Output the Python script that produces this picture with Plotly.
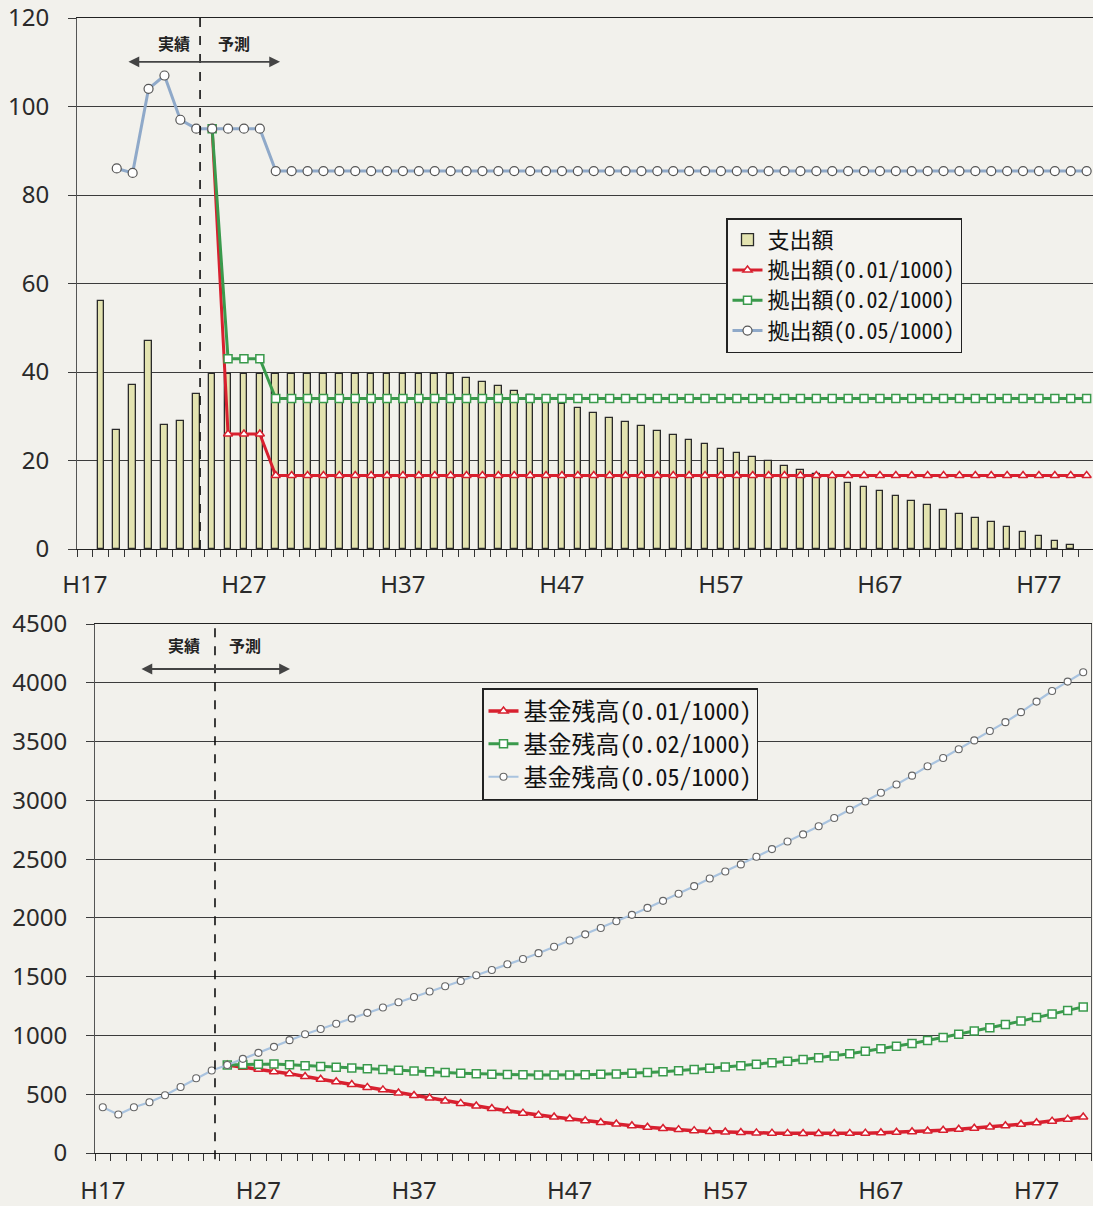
import plotly.graph_objects as go

# ---------------- data ----------------
years = ["H17","H18","H19","H20","H21","H22","H23","H24","H25","H26",
         "H27","H28","H29","H30","H31","H32","H33","H34","H35","H36",
         "H37","H38","H39","H40","H41","H42","H43","H44","H45","H46",
         "H47","H48","H49","H50","H51","H52","H53","H54","H55","H56",
         "H57","H58","H59","H60","H61","H62","H63","H64","H65","H66",
         "H67","H68","H69","H70","H71","H72","H73","H74","H75","H76",
         "H77","H78","H79","H80"]
label_years = ["H17","H27","H37","H47","H57","H67","H77"]

# 支出額 (top, bars)
spending = [None, 56, 27, 37, 47, 28, 29, 35,
            39.6, 39.6, 39.6, 39.6, 39.6, 39.6, 39.6, 39.6,
            39.6, 39.6, 39.6, 39.6, 39.6, 39.6, 39.6, 39.6,
            38.7, 37.8, 36.8, 35.8, 34.8, 33.8, 32.8, 31.8, 30.8, 29.7,
            28.7, 27.7, 26.7, 25.7, 24.7, 23.7, 22.6, 21.6, 20.7, 19.8,
            18.8, 17.8, 17.0, 16.0, 15.0, 14.0, 13.0, 12.0, 10.9, 9.9,
            8.9, 7.9, 6.9, 6.0, 4.9, 3.9, 2.9, 1.9, 0.9, None]

# 拠出額 (top, lines)
contrib_001 = [None, None, None, None, None, None, None, None, 95, 26, 26, 26,
               16.6, 16.6, 16.6, 16.6, 16.6, 16.6, 16.6, 16.6, 16.6, 16.6,
               16.6, 16.6, 16.6, 16.6, 16.6, 16.6, 16.6, 16.6, 16.6, 16.6,
               16.6, 16.6, 16.6, 16.6, 16.6, 16.6, 16.6, 16.6, 16.6, 16.6,
               16.6, 16.6, 16.6, 16.6, 16.6, 16.6, 16.6, 16.6, 16.6, 16.6,
               16.6, 16.6, 16.6, 16.6, 16.6, 16.6, 16.6, 16.6, 16.6, 16.6,
               16.6, 16.6]
contrib_002 = [None, None, None, None, None, None, None, None, 95, 43, 43, 43,
               34, 34, 34, 34, 34, 34, 34, 34, 34, 34,
               34, 34, 34, 34, 34, 34, 34, 34, 34, 34,
               34, 34, 34, 34, 34, 34, 34, 34, 34, 34,
               34, 34, 34, 34, 34, 34, 34, 34, 34, 34,
               34, 34, 34, 34, 34, 34, 34, 34, 34, 34,
               34, 34]
contrib_005 = [None, None, 86, 85, 104, 107, 97, 95, 95, 95, 95, 95,
               85.4, 85.4, 85.4, 85.4, 85.4, 85.4, 85.4, 85.4, 85.4, 85.4,
               85.4, 85.4, 85.4, 85.4, 85.4, 85.4, 85.4, 85.4, 85.4, 85.4,
               85.4, 85.4, 85.4, 85.4, 85.4, 85.4, 85.4, 85.4, 85.4, 85.4,
               85.4, 85.4, 85.4, 85.4, 85.4, 85.4, 85.4, 85.4, 85.4, 85.4,
               85.4, 85.4, 85.4, 85.4, 85.4, 85.4, 85.4, 85.4, 85.4, 85.4,
               85.4, 85.4]

# 基金残高 (bottom, lines)
fund_005 = [389, 327, 389, 432, 491, 562, 636, 702, 748,
            801, 852, 903, 960, 1010, 1055, 1100, 1145, 1192, 1238,
            1283, 1327, 1374, 1419, 1463, 1512, 1557, 1606, 1650, 1700,
            1754, 1808, 1860, 1914, 1972, 2026, 2085, 2145, 2205, 2270,
            2335, 2395, 2455, 2520, 2585, 2650, 2710, 2780, 2850, 2920,
            2990, 3065, 3135, 3210, 3290, 3360, 3435, 3510, 3590, 3665,
            3750, 3840, 3930, 4010, 4090]
fund_001 = [None, None, None, None, None, None, None, None, 748,
            730, 712, 692, 675, 650, 627, 606, 582, 558, 537,
            511, 489, 468, 443, 422, 400, 379, 359, 339, 322,
            306, 291, 275, 260, 246, 232, 219, 208, 199, 190,
            183, 178, 174, 171, 169, 167, 166, 166, 166, 167,
            169, 172, 176, 181, 187, 194, 202, 211, 221, 232,
            244, 257, 271, 288, 306]
fund_002 = [None, None, None, None, None, None, None, None, 748,
            752, 756, 758, 750, 743, 736, 730, 724, 717, 711,
            704, 698, 691, 685, 679, 674, 670, 667, 665, 664,
            663, 664, 666, 669, 673, 678, 685, 692, 700, 710,
            720, 731, 742, 754, 767, 781, 795, 810, 826, 845,
            865, 886, 908, 932, 957, 983, 1010, 1037, 1065, 1093,
            1122, 1152, 1183, 1212, 1243]

xpos = list(range(len(years)))
label_pos = [years.index(y) for y in label_years]

# ---------------- styling ----------------
BG = "#f2f1ec"
GRID = "#3c3c3c"
TXT = "#2a2a2a"
RED = "#d8202f"
GREEN = "#3a9a4c"
BLUE_TOP = "#8fa9c9"
BLUE_BOT = "#a9c3df"
BAR_FILL = "#e3e3b0"
NUM_FONT = dict(family="Noto Sans", size=24, color=TXT)
JP = "Noto Sans CJK JP"
JP_LEG = "Noto Sans Mono CJK JP, Noto Sans CJK JP"


def big(s, px):
    return '<span style="font-size:%dpx">%s</span>' % (px, s)


fig = go.Figure()

# top chart
fig.add_trace(go.Bar(x=xpos, y=spending, name=big("支出額", 22), width=0.42,
                     marker=dict(color=BAR_FILL, line=dict(color="#2a2a2a", width=1.3)),
                     xaxis="x", yaxis="y", legend="legend"))
fig.add_trace(go.Scatter(x=xpos, y=contrib_001, name=big("拠出額(0.01/1000)", 22),
                         mode="lines+markers", line=dict(color=RED, width=3),
                         marker=dict(symbol="triangle-up", size=8, color="white",
                                     line=dict(color=RED, width=1.5)),
                         xaxis="x", yaxis="y", legend="legend"))
fig.add_trace(go.Scatter(x=xpos, y=contrib_002, name=big("拠出額(0.02/1000)", 22),
                         mode="lines+markers", line=dict(color=GREEN, width=3),
                         marker=dict(symbol="square", size=8, color="white",
                                     line=dict(color=GREEN, width=1.5)),
                         xaxis="x", yaxis="y", legend="legend"))
fig.add_trace(go.Scatter(x=xpos, y=contrib_005, name=big("拠出額(0.05/1000)", 22),
                         mode="lines+markers", line=dict(color=BLUE_TOP, width=3),
                         marker=dict(symbol="circle", size=9, color="white",
                                     line=dict(color="#555555", width=1.2)),
                         xaxis="x", yaxis="y", legend="legend"))

# bottom chart
fig.add_trace(go.Scatter(x=xpos, y=fund_001, name=big("基金残高(0.01/1000)", 24),
                         mode="lines+markers", line=dict(color=RED, width=3.5),
                         marker=dict(symbol="triangle-up", size=8, color="white",
                                     line=dict(color=RED, width=1.5)),
                         xaxis="x2", yaxis="y2", legend="legend2"))
fig.add_trace(go.Scatter(x=xpos, y=fund_002, name=big("基金残高(0.02/1000)", 24),
                         mode="lines+markers", line=dict(color=GREEN, width=3),
                         marker=dict(symbol="square", size=8, color="white",
                                     line=dict(color=GREEN, width=1.5)),
                         xaxis="x2", yaxis="y2", legend="legend2"))
fig.add_trace(go.Scatter(x=xpos, y=fund_005, name=big("基金残高(0.05/1000)", 24),
                         mode="lines+markers", line=dict(color=BLUE_BOT, width=2.2),
                         marker=dict(symbol="circle", size=7, color="white",
                                     line=dict(color="#666666", width=1.1)),
                         xaxis="x2", yaxis="y2", legend="legend2"))

W, H = 1093, 1206


def xaxis_cfg(domain, rng, anchor, standoff):
    return dict(domain=domain, range=rng, anchor=anchor, automargin=False,
                tickmode="array", tickvals=label_pos,
                ticktext=label_years, ticks="", tickfont=NUM_FONT, ticklabelstandoff=standoff,
                ticklabeloverflow="allow",
                showgrid=False, zeroline=False, showline=True, linecolor="#222", linewidth=1.3,
                mirror=True,
                minor=dict(tickmode="linear", tick0=-0.5, dtick=1, ticks="outside",
                           ticklen=7, tickcolor="#333", tickwidth=1, showgrid=False))


def yaxis_cfg(domain, rng, dtick, anchor):
    return dict(domain=domain, range=rng, dtick=dtick, tick0=0, tickmode="linear",
                anchor=anchor, automargin=False, ticklabeloverflow="allow",
                ticks="outside", ticklen=8, tickcolor=GRID, tickfont=NUM_FONT,
                ticklabelstandoff=14, showgrid=True, gridcolor=GRID, gridwidth=1,
                zeroline=False, showline=True, linecolor="#555", linewidth=1,
                mirror=True)


fig.update_layout(
    width=W, height=H,
    margin=dict(l=0, r=0, t=0, b=0, pad=0, autoexpand=False),
    paper_bgcolor=BG, plot_bgcolor=BG,
    bargap=0,
    xaxis=xaxis_cfg([77 / W, 1.0], [-0.5, 63.4], "y", 14),
    yaxis=yaxis_cfg([1 - 549 / H, 1 - 18 / H], [0, 120], 20, "x"),
    xaxis2=xaxis_cfg([95 / W, 1091 / W], [-0.5, 63.5], "y2", 16),
    yaxis2=yaxis_cfg([1 - 1153 / H, 1 - 624 / H], [0, 4500], 500, "x2"),
    legend=dict(x=726 / W, y=1 - 218 / H, xanchor="left", yanchor="top",
                bgcolor="#f4f3ef", bordercolor="#222", borderwidth=1.5,
                font=dict(family=JP_LEG, size=21, color="#111"),
                tracegroupgap=0, itemclick=False),
    legend2=dict(x=482 / W, y=1 - 688 / H, xanchor="left", yanchor="top",
                 bgcolor="#f4f3ef", bordercolor="#222", borderwidth=1.5,
                 font=dict(family=JP_LEG, size=23, color="#111"),
                 tracegroupgap=0, itemclick=False),
    showlegend=True,
)

# dashed separators (actual / forecast)
fig.add_shape(type="line", xref="x", yref="y domain", x0=7.24, x1=7.24, y0=0, y1=1,
              line=dict(color="#111", width=1.6, dash="dash"))
fig.add_shape(type="line", xref="x2", yref="y2 domain", x0=7.21, x1=7.21, y0=-0.012, y1=1,
              line=dict(color="#111", width=1.6, dash="dash"))

ann_font = dict(family=JP, size=16, color="#222")
# top chart labels
fig.add_annotation(x=5.60, y=114.4, xref="x", yref="y", text="<b>実績</b>", showarrow=False, font=ann_font)
fig.add_annotation(x=9.37, y=114.4, xref="x", yref="y", text="<b>予測</b>", showarrow=False, font=ann_font)
fig.add_annotation(x=12.27, y=110.1, xref="x", yref="y", ax=2.64, ay=110.1, axref="x", ayref="y",
                   text="", showarrow=True, arrowhead=2, arrowside="end+start",
                   arrowsize=1.2, arrowwidth=1.8, arrowcolor="#444")
# bottom chart labels
fig.add_annotation(x=5.22, y=4321, xref="x2", yref="y2", text="<b>実績</b>", showarrow=False, font=ann_font)
fig.add_annotation(x=9.14, y=4321, xref="x2", yref="y2", text="<b>予測</b>", showarrow=False, font=ann_font)
fig.add_annotation(x=12.03, y=4117, xref="x2", yref="y2", ax=2.39, ay=4117, axref="x2", ayref="y2",
                   text="", showarrow=True, arrowhead=2, arrowside="end+start",
                   arrowsize=1.2, arrowwidth=1.8, arrowcolor="#444")

fig.write_html("out.html")
